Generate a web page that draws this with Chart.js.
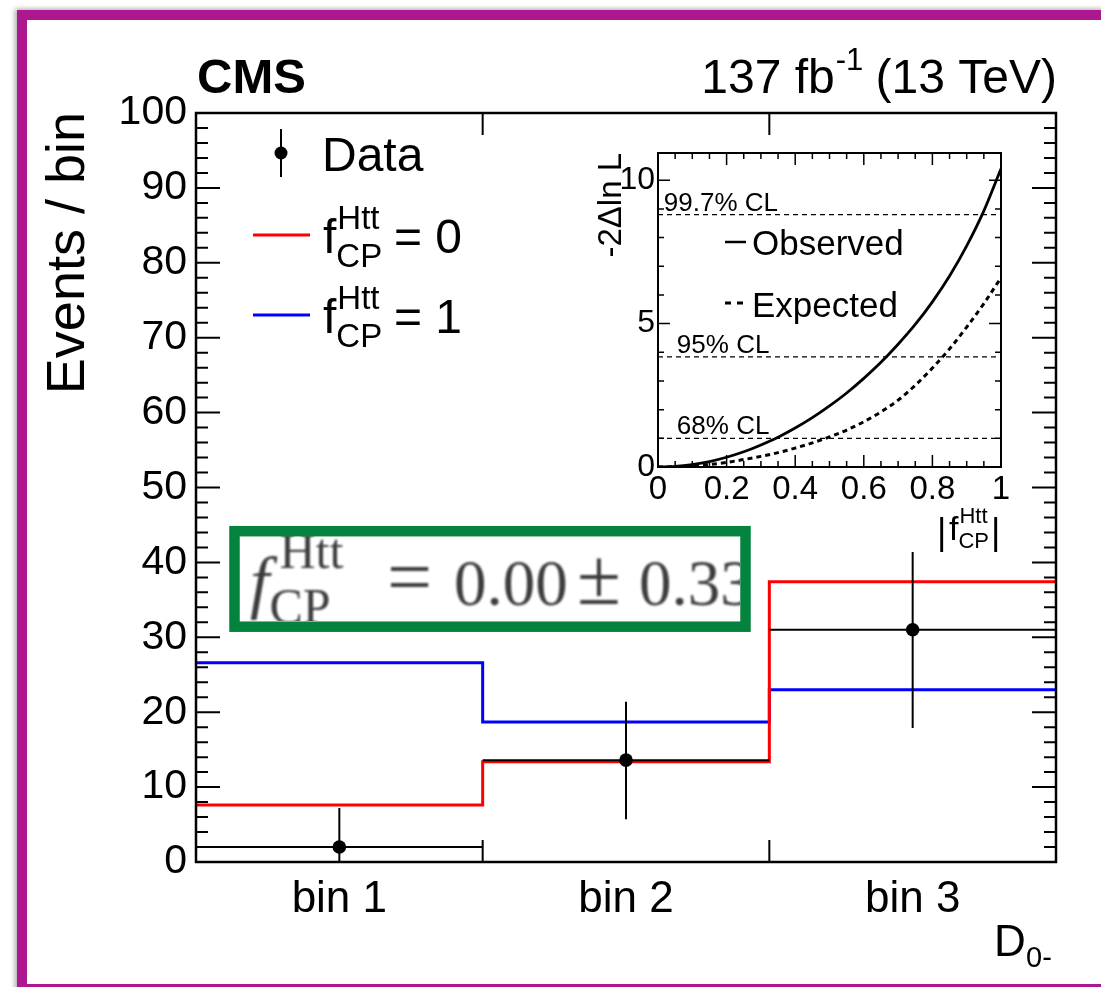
<!DOCTYPE html>
<html>
<head>
<meta charset="utf-8">
<script src="https://cdn.jsdelivr.net/npm/chart.js@4.4.1/dist/chart.umd.min.js"></script>
<style>
  html, body { margin: 0; padding: 0; background: #fff; }
  body { width: 1101px; height: 987px; overflow: hidden; position: relative; }
  #frame {
    position: absolute; left: 17px; top: 10px; width: 1200px; height: 983.5px;
    border: 10.5px solid #ad1890; box-sizing: border-box;
    box-shadow: -2px -1px 5px rgba(0,0,0,0.35);
  }
  #main { position: absolute; left: 0; top: 0; }
  #inset { position: absolute; left: 560px; top: 130px; }
</style>
</head>
<body>
<div id="frame"></div>
<canvas id="main" width="1101" height="987"></canvas>
<canvas id="inset" width="500" height="440"></canvas>
<script>
// main histogram: D0- in three bins
const binEdges = [0, 1, 2, 3];
const binLabels = ['bin 1', 'bin 2', 'bin 3'];
const dataCounts = [2.0, 13.6, 31.0];
const dataErrLow = [2.0, 7.9, 13.1];
const dataErrHigh = [5.2, 7.8, 10.4];
const fcp0 = [7.6, 13.4, 37.4];   // f_CP = 0 (red)
const fcp1 = [26.6, 18.7, 23.0];  // f_CP = 1 (blue)
const yTicksMain = [0, 10, 20, 30, 40, 50, 60, 70, 80, 90, 100];

// inset: likelihood scan
const scanX   = [0, 0.05, 0.1, 0.15, 0.2, 0.25, 0.3, 0.35, 0.4, 0.45, 0.5,
                 0.55, 0.6, 0.65, 0.7, 0.75, 0.8, 0.85, 0.9, 0.95, 1.0];
const scanObs = [0, 0.02, 0.085, 0.19, 0.34, 0.53, 0.77, 1.04, 1.36, 1.72, 2.13,
                 2.58, 3.09, 3.65, 4.28, 4.97, 5.76, 6.66, 7.71, 8.93, 10.4];
const scanExp = [0, 0.01, 0.04, 0.09, 0.16, 0.26, 0.37, 0.5, 0.66, 0.84, 1.05,
                 1.29, 1.58, 1.92, 2.33, 2.85, 3.45, 4.12, 4.88, 5.7, 6.6];
const clLevels = [1.0, 3.84, 8.8];
const clNames = ['68% CL', '95% CL', '99.7% CL'];
const insetXTicks = [0, 0.2, 0.4, 0.6, 0.8, 1];
const insetXLabels = ['0', '0.2', '0.4', '0.6', '0.8', '1'];
const insetYTicks = [0, 5, 10];
const insetYLabels = ['0', '5', '10'];

const SANS = '"Liberation Sans", Arial, sans-serif';
const SERIF = '"Liberation Serif", "Times New Roman", serif';
Chart.defaults.font.family = SANS;
Chart.defaults.color = '#000';

function stepPoints(vals) {
  const pts = vals.map((v, i) => ({ x: binEdges[i], y: v }));
  pts.push({ x: binEdges[binEdges.length - 1], y: vals[vals.length - 1] });
  return pts;
}

// f with sub CP and sup Htt
function drawF(ctx, x, y, o) {
  ctx.font = o.italic + ' ' + o.size + 'px ' + o.family;
  ctx.fillText('f', x, y);
  const fw = ctx.measureText('f').width;
  ctx.font = o.small + 'px ' + o.family;
  ctx.fillText('Htt', x + fw + o.supDx, y - o.supDy);
  ctx.fillText('CP', x + fw + o.subDx, y + o.subDy);
  return fw + Math.max(ctx.measureText('Htt').width + o.supDx, ctx.measureText('CP').width + o.subDx);
}

const mainDecor = {
  id: 'mainDecor',
  beforeDatasetDraw(chart, args) {
    if (args.index !== 0) return;
    const xs = chart.scales.x, ys = chart.scales.y, ctx = chart.ctx;
    ctx.save();
    ctx.strokeStyle = '#000';
    ctx.lineWidth = 2;
    ctx.beginPath();
    for (let i = 0; i < dataCounts.length; i++) {
      const yv = ys.getPixelForValue(dataCounts[i]);
      ctx.moveTo(xs.getPixelForValue(binEdges[i]), yv);
      ctx.lineTo(xs.getPixelForValue(binEdges[i + 1]), yv);
      const xc = xs.getPixelForValue((binEdges[i] + binEdges[i + 1]) / 2);
      ctx.moveTo(xc, ys.getPixelForValue(dataCounts[i] - dataErrLow[i]));
      ctx.lineTo(xc, ys.getPixelForValue(dataCounts[i] + dataErrHigh[i]));
    }
    ctx.stroke();
    ctx.restore();
  },
  afterDraw(chart) {
    const ctx = chart.ctx, a = chart.chartArea;
    const xs = chart.scales.x, ys = chart.scales.y;
    ctx.save();
    ctx.strokeStyle = '#000';
    ctx.fillStyle = '#000';

    // ticks (inside, ROOT style)
    ctx.lineWidth = 2;
    ctx.beginPath();
    for (let v = 0; v <= 100; v += 2) {
      const py = ys.getPixelForValue(v);
      const len = v % 10 === 0 ? 24 : 12;
      ctx.moveTo(a.left, py); ctx.lineTo(a.left + len, py);
      ctx.moveTo(a.right, py); ctx.lineTo(a.right - len, py);
    }
    for (let i = 1; i < binEdges.length - 1; i++) {
      const px = xs.getPixelForValue(binEdges[i]);
      ctx.moveTo(px, a.bottom); ctx.lineTo(px, a.bottom - 22);
      ctx.moveTo(px, a.top); ctx.lineTo(px, a.top + 22);
    }
    ctx.stroke();

    // frame
    ctx.lineWidth = 2.5;
    ctx.strokeRect(a.left, a.top, a.right - a.left, a.bottom - a.top);

    // CMS / lumi
    ctx.textBaseline = 'alphabetic';
    ctx.textAlign = 'left';
    ctx.font = 'bold 49px ' + SANS;
    ctx.fillText('CMS', 197, 93);
    ctx.font = '48px ' + SANS;
    const w1 = ctx.measureText('137 fb').width;
    const w3 = ctx.measureText(' (13 TeV)').width;
    ctx.font = '31px ' + SANS;
    const w2 = ctx.measureText('-1').width;
    let x0 = 1057 - w1 - w2 - w3;
    ctx.font = '48px ' + SANS;
    ctx.fillText('137 fb', x0, 93);
    ctx.fillText(' (13 TeV)', x0 + w1 + w2, 93);
    ctx.font = '31px ' + SANS;
    ctx.fillText('-1', x0 + w1 + 1, 70);

    // y title
    ctx.save();
    ctx.translate(84, 112);
    ctx.rotate(-Math.PI / 2);
    ctx.textAlign = 'right';
    ctx.font = '54px ' + SANS;
    ctx.fillText('Events / bin', 0, 0);
    ctx.restore();

    // x title D_0-
    ctx.font = '44px ' + SANS;
    ctx.fillText('D', 994, 956);
    ctx.font = '29px ' + SANS;
    ctx.fillText('0-', 1026, 967);

    // legend
    ctx.beginPath();
    ctx.arc(281, 153, 6.5, 0, Math.PI * 2);
    ctx.fill();
    ctx.lineWidth = 2;
    ctx.beginPath();
    ctx.moveTo(281, 129); ctx.lineTo(281, 177);
    ctx.stroke();
    ctx.font = '48px ' + SANS;
    ctx.fillText('Data', 322, 171);

    const legF = { italic: '', size: 48, small: 33, family: SANS, supDx: 1, supDy: 24, subDx: 0, subDy: 14 };
    ctx.lineWidth = 3;
    ctx.strokeStyle = '#ff0000';
    ctx.beginPath(); ctx.moveTo(253, 235); ctx.lineTo(310, 235); ctx.stroke();
    ctx.strokeStyle = '#0000ff';
    ctx.beginPath(); ctx.moveTo(253, 315); ctx.lineTo(310, 315); ctx.stroke();
    drawF(ctx, 323, 253, legF);
    drawF(ctx, 323, 333, legF);
    ctx.font = '48px ' + SANS;
    ctx.fillText('= 0', 394, 253);
    ctx.fillText('= 1', 394, 333);

    // highlighted result box
    ctx.save();
    ctx.beginPath();
    ctx.rect(240, 536, 500, 85);
    ctx.clip();
    ctx.filter = 'blur(0.8px)';
    ctx.fillStyle = '#3c3c3c';
    drawF(ctx, 250, 605, { italic: 'italic', size: 70, small: 50, family: SERIF, supDx: 10, supDy: 37, subDx: 0, subDy: 18 });
    ctx.font = '80px ' + SERIF;
    ctx.fillText('=', 387, 604);
    ctx.fillText('\u00b1', 577, 604);
    ctx.font = '65px ' + SERIF;
    ctx.fillText('0.00', 454, 605);
    ctx.fillText('0.33', 639, 605);
    ctx.restore();
    ctx.strokeStyle = '#04833f';
    ctx.lineWidth = 10.5;
    ctx.strokeRect(234.5, 531.2, 511, 95.5);

    ctx.restore();
  }
};

new Chart(document.getElementById('main'), {
  type: 'line',
  data: {
    datasets: [
      {
        label: 'Data',
        data: dataCounts.map((v, i) => ({ x: (binEdges[i] + binEdges[i + 1]) / 2, y: v })),
        showLine: false,
        pointRadius: 6.8,
        pointBackgroundColor: '#000',
        pointBorderWidth: 0
      },
      {
        label: 'fCP=0',
        data: stepPoints(fcp0),
        stepped: true,
        borderColor: '#ff0000',
        borderWidth: 3,
        pointRadius: 0,
        fill: false
      },
      {
        label: 'fCP=1',
        data: stepPoints(fcp1),
        stepped: true,
        borderColor: '#0000ff',
        borderWidth: 3,
        pointRadius: 0,
        fill: false
      }
    ]
  },
  options: {
    responsive: false,
    animation: false,
    events: [],
    layout: { padding: { top: 113, right: 45, left: 0, bottom: 0 } },
    plugins: { legend: { display: false }, tooltip: { enabled: false } },
    scales: {
      x: {
        type: 'linear', min: 0, max: 3,
        grid: { display: false, drawTicks: false },
        border: { display: false },
        afterBuildTicks: s => { s.ticks = binEdges.slice(0, -1).map((e, i) => ({ value: (e + binEdges[i + 1]) / 2 })); },
        afterFit: s => { s.height = 125; },
        ticks: { font: { size: 44 }, padding: 11, maxRotation: 0, autoSkip: false, callback: (v, i) => binLabels[i] }
      },
      y: {
        type: 'linear', min: 0, max: 100,
        grid: { display: false, drawTicks: false },
        border: { display: false },
        afterBuildTicks: s => { s.ticks = yTicksMain.map(v => ({ value: v })); },
        afterFit: s => { s.width = 196; },
        ticks: { font: { size: 41 }, padding: 9, autoSkip: false }
      }
    }
  },
  plugins: [mainDecor]
});

const insetDecor = {
  id: 'insetDecor',
  afterDraw(chart) {
    const ctx = chart.ctx, a = chart.chartArea;
    const xs = chart.scales.x, ys = chart.scales.y;
    ctx.save();
    ctx.strokeStyle = '#000';
    ctx.fillStyle = '#000';
    ctx.lineWidth = 1.5;
    ctx.beginPath();
    for (let v = 0; v <= 10; v += 1) {
      const py = ys.getPixelForValue(v);
      const len = v % 5 === 0 ? 12 : 6;
      ctx.moveTo(a.left, py); ctx.lineTo(a.left + len, py);
      ctx.moveTo(a.right, py); ctx.lineTo(a.right - len, py);
    }
    for (let k = 0; k <= 20; k++) {
      const px = xs.getPixelForValue(k * 0.05);
      const len = k % 4 === 0 ? 12 : 6;
      ctx.moveTo(px, a.bottom); ctx.lineTo(px, a.bottom - len);
      ctx.moveTo(px, a.top); ctx.lineTo(px, a.top + len);
    }
    ctx.stroke();
    ctx.lineWidth = 2;
    ctx.strokeRect(a.left, a.top, a.right - a.left, a.bottom - a.top);

    // CL labels
    ctx.textAlign = 'left';
    ctx.textBaseline = 'alphabetic';
    ctx.font = '26px ' + SANS;
    const labX = [0.055, 0.055, 0.017];
    for (let i = 0; i < clLevels.length; i++) {
      ctx.fillText(clNames[i], xs.getPixelForValue(labX[i]), ys.getPixelForValue(clLevels[i]) - 4);
    }

    // legend
    ctx.lineWidth = 2.5;
    ctx.beginPath();
    ctx.moveTo(165, 112); ctx.lineTo(186, 112);
    ctx.stroke();
    ctx.lineWidth = 3;
    ctx.beginPath();
    ctx.moveTo(165, 173); ctx.lineTo(171, 173);
    ctx.moveTo(177, 173); ctx.lineTo(183, 173);
    ctx.stroke();
    ctx.font = '35px ' + SANS;
    ctx.fillText('Observed', 192, 125);
    ctx.fillText('Expected', 192, 187);

    // y title
    ctx.save();
    ctx.translate(61, 23);
    ctx.rotate(-Math.PI / 2);
    ctx.textAlign = 'right';
    ctx.font = '33px ' + SANS;
    ctx.fillText('-2\u0394ln L', 0, 0);
    ctx.restore();

    // x title |f|
    ctx.font = '36px ' + SANS;
    ctx.fillText('|', 377, 414);
    const fw = drawF(ctx, 389, 410, { italic: '', size: 34, small: 22, family: SANS, supDx: 1, supDy: 17, subDx: 0, subDy: 8 });
    ctx.font = '36px ' + SANS;
    ctx.fillText('|', 389 + fw + 2, 414);
    ctx.restore();
  }
};

const clSets = clLevels.map(lv => ({
  data: [{ x: 0, y: lv }, { x: 1, y: lv }],
  borderColor: '#000', borderWidth: 1.3, borderDash: [5, 4], pointRadius: 0
}));

new Chart(document.getElementById('inset'), {
  type: 'line',
  data: {
    datasets: [
      {
        label: 'Observed',
        data: scanX.map((x, i) => ({ x: x, y: scanObs[i] })),
        borderColor: '#000', borderWidth: 2.8, pointRadius: 0,
        cubicInterpolationMode: 'monotone'
      },
      {
        label: 'Expected',
        data: scanX.map((x, i) => ({ x: x, y: scanExp[i] })),
        borderColor: '#000', borderWidth: 3, borderDash: [5, 4], pointRadius: 0,
        cubicInterpolationMode: 'monotone'
      }
    ].concat(clSets)
  },
  options: {
    responsive: false,
    animation: false,
    events: [],
    layout: { padding: { top: 23, right: 59, left: 0, bottom: 0 } },
    plugins: { legend: { display: false }, tooltip: { enabled: false } },
    scales: {
      x: {
        type: 'linear', min: 0, max: 1,
        grid: { display: false, drawTicks: false },
        border: { display: false },
        afterBuildTicks: s => { s.ticks = insetXTicks.map(v => ({ value: v })); },
        afterFit: s => { s.height = 103; },
        ticks: { font: { size: 33 }, padding: 3, maxRotation: 0, autoSkip: false, callback: (v, i) => insetXLabels[i] }
      },
      y: {
        type: 'linear', min: 0, max: 10.95,
        grid: { display: false, drawTicks: false },
        border: { display: false },
        afterBuildTicks: s => { s.ticks = insetYTicks.map(v => ({ value: v })); },
        afterFit: s => { s.width = 98; },
        ticks: { font: { size: 32 }, padding: 3, autoSkip: false, callback: (v, i) => insetYLabels[i] }
      }
    }
  },
  plugins: [insetDecor]
});
</script>
</body>
</html>
